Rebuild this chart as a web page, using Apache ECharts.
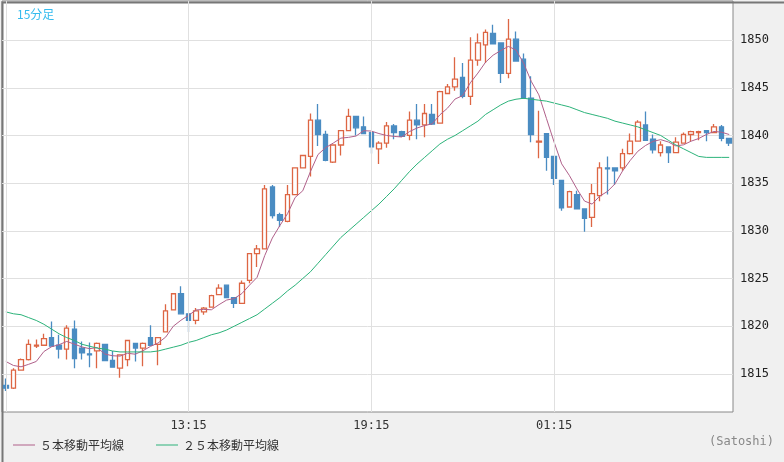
<!DOCTYPE html>
<html><head><meta charset="utf-8">
<script src="https://cdn.jsdelivr.net/npm/echarts@6/dist/echarts.min.js"></script>
<style>html,body{margin:0;padding:0;background:#f0f0f0}#c{width:784px;height:462px}</style>
</head><body><div id="c"></div>
<script>
// [open, close, low, high]
const ohlc = [
[1813.8,1813.5,1813.2,1814.5],[1813.5,1815.4,1813.4,1815.6],[1815.4,1816.5,1815.4,1816.6],[1816.5,1818.1,1816.4,1818.6],
[1817.9,1818.0,1817.7,1818.6],[1818.0,1818.7,1818.0,1819.2],[1818.8,1817.9,1817.9,1820.5],[1818.0,1817.6,1816.6,1819.1],
[1817.6,1819.8,1816.5,1820.1],[1819.7,1816.6,1815.6,1820.6],[1817.7,1817.2,1816.5,1818.4],[1817.1,1817.0,1815.7,1818.3],
[1817.4,1818.2,1815.6,1818.3],[1818.1,1816.4,1816.4,1818.1],[1816.4,1815.7,1815.7,1817.4],[1815.6,1817.0,1814.6,1817.0],
[1816.5,1818.5,1815.8,1818.5],[1818.2,1817.7,1816.3,1818.2],[1817.7,1818.2,1815.8,1818.3],[1818.8,1818.0,1818.0,1820.1],
[1818.1,1818.8,1815.9,1818.8],[1819.4,1821.6,1819.4,1822.3],[1821.7,1823.4,1821.7,1823.4],[1823.4,1821.3,1821.3,1824.2],
[1821.3,1820.6,1819.4,1821.3],[1820.6,1821.6,1820.2,1821.9],[1821.5,1821.9,1821.2,1822.0],[1822.0,1823.2,1822.0,1823.3],
[1823.3,1824.0,1823.3,1824.4],[1824.3,1823.0,1823.0,1824.3],[1823.0,1822.4,1821.9,1823.0],[1822.4,1824.5,1822.4,1824.8],
[1824.8,1827.6,1824.5,1827.6],[1827.6,1828.1,1826.2,1828.5],[1828.1,1834.4,1828.1,1834.8],[1834.6,1831.6,1831.3,1834.8],
[1831.7,1831.1,1830.4,1831.9],[1831.0,1833.8,1830.9,1834.8],[1833.8,1836.6,1833.8,1836.6],[1836.6,1837.9,1836.6,1837.9],
[1837.8,1841.6,1835.7,1842.3],[1841.6,1840.1,1838.9,1843.3],[1840.1,1837.4,1837.3,1840.5],[1837.2,1839.0,1837.1,1839.0],
[1839.0,1840.5,1837.9,1840.5],[1840.5,1842.0,1840.5,1842.8],[1842.0,1840.8,1840.0,1842.0],[1840.9,1840.2,1840.2,1842.0],
[1840.3,1838.8,1838.1,1840.3],[1838.6,1839.2,1837.0,1839.4],[1839.2,1841.0,1838.7,1841.4],[1841.0,1840.3,1839.6,1841.2],
[1840.4,1839.9,1839.9,1840.5],[1840.0,1841.6,1839.5,1842.5],[1841.6,1841.1,1839.6,1843.3],[1841.1,1842.3,1839.8,1843.3],
[1842.2,1841.2,1841.1,1843.3],[1841.3,1844.6,1841.3,1844.7],[1844.4,1845.1,1844.4,1845.4],[1845.1,1845.9,1844.7,1848.2],
[1846.1,1844.1,1843.9,1847.6],[1844.1,1847.9,1843.2,1850.3],[1847.9,1849.7,1847.3,1850.7],[1849.5,1850.8,1847.6,1851.1],
[1850.7,1849.6,1849.6,1851.6],[1849.7,1846.5,1845.5,1849.7],[1846.5,1850.1,1846.0,1852.2],[1850.1,1847.8,1847.8,1850.9],
[1848.0,1843.9,1843.9,1848.6],[1843.9,1840.1,1839.3,1846.2],[1839.3,1839.4,1837.6,1842.6],[1840.2,1837.7,1836.3,1840.2],
[1837.8,1835.5,1834.8,1837.8],[1835.3,1832.4,1832.1,1835.3],[1832.5,1834.1,1832.5,1834.2],[1833.8,1832.3,1832.3,1834.2],
[1832.3,1831.3,1829.9,1832.3],[1831.4,1833.9,1830.4,1834.9],[1833.7,1836.6,1833.1,1837.2],[1836.6,1836.5,1833.8,1837.8],
[1836.6,1836.3,1834.8,1836.6],[1836.6,1838.1,1836.3,1838.6],[1838.1,1839.4,1838.0,1840.2],[1839.4,1841.4,1839.4,1841.6],
[1841.1,1839.5,1839.5,1842.5],[1839.6,1838.5,1838.1,1840.1],[1838.2,1839.0,1837.8,1839.4],[1838.8,1838.2,1837.1,1838.8],
[1838.2,1839.3,1838.2,1839.8],[1839.2,1840.1,1839.2,1840.3],[1840.1,1840.4,1839.4,1840.5],[1840.3,1840.4,1839.5,1840.5],
[1840.5,1840.3,1839.4,1840.5],[1840.3,1840.9,1840.3,1841.2],[1840.9,1839.7,1839.4,1841.1],[1839.7,1839.2,1838.9,1839.7]
];
const prevCloses = [1817.5,1817.2,1816.8,1816.5];
const ma25 = [1821.5,1821.3,1821.2,1820.9,1820.6,1820.2,1819.7,1819.2,1818.8,1818.5,1818.1,1817.9,1817.7,1817.6,1817.4,1817.3,
1817.3,1817.3,1817.3,1817.3,1817.4,1817.6,1817.8,1818.0,1818.3,1818.5,1818.8,1819.1,1819.3,1819.6,1820.0,1820.4,
1820.8,1821.2,1821.8,1822.4,1823.0,1823.7,1824.3,1825.0,1825.7,1826.6,1827.5,1828.4,1829.3,1830.0,1830.7,1831.4,
1832.1,1832.8,1833.6,1834.4,1835.3,1836.2,1837.0,1837.7,1838.4,1839.1,1839.6,1840.0,1840.5,1841.0,1841.5,1842.2,
1842.7,1843.2,1843.6,1843.8,1843.9,1843.8,1843.7,1843.6,1843.4,1843.2,1843.0,1842.7,1842.4,1842.2,1842.0,1841.8,
1841.5,1841.3,1841.1,1840.9,1840.6,1840.3,1840.0,1839.5,1839.0,1838.6,1838.2,1837.8,1837.7,1837.7,1837.7,1837.7];
const yTicks = [1815,1820,1825,1830,1835,1840,1845,1850];
const timeLabels = ['13:15','19:15','01:15'];

const cats = ohlc.map((d,i)=>{const m=(7*60+15+i*15)%(24*60);return String(Math.floor(m/60)).padStart(2,'0')+':'+String(m%60).padStart(2,'0');});
const closes = prevCloses.concat(ohlc.map(d=>d[1]));
const ma5 = ohlc.map((d,i)=>{let s=0;for(let k=0;k<5;k++)s+=closes[i+4-k];return +(s/5).toFixed(2);});
const font='"DejaVu Sans Mono", monospace';
const chart = echarts.init(document.getElementById('c'));
chart.setOption({
  animation:false, backgroundColor:'#f0f0f0',
  title:{text:'15分足',left:12,top:3,textStyle:{color:'#33bbee',fontSize:12,fontWeight:'normal',fontFamily:'"Noto Sans CJK JP"'}},
  graphic:[{type:'text',right:10,bottom:14,style:{text:'(Satoshi)',fill:'#888',font:'12px '+font}},
           {type:'rect',left:0,top:0,shape:{width:783,height:461},style:{fill:'none',stroke:'#777',lineWidth:2},silent:true}],
  legend:{left:8,bottom:6,itemGap:32,itemWidth:22,itemHeight:1,icon:'rect',textStyle:{fontFamily:'"Noto Sans CJK JP"',fontSize:12,color:'#333'},
    data:['５本移動平均線','２５本移動平均線']},
  grid:{left:2,right:51,top:1,bottom:50,show:true,backgroundColor:'#fff',borderColor:'#888',borderWidth:1},
  xAxis:{type:'category',data:cats,boundaryGap:true,axisLine:{show:false},axisTick:{show:false},splitLine:{show:false},
    axisLabel:{interval:0,formatter:v=>timeLabels.includes(v)?v:'',color:'#333',fontFamily:font,fontSize:12,margin:8}},
  yAxis:{type:'value',position:'right',min:1811,max:1854.1,scale:true,
    axisLine:{show:false},axisTick:{show:false,customValues:yTicks},
    axisLabel:{customValues:yTicks,formatter:v=>String(v),color:'#222',fontFamily:font,fontSize:12,margin:7},
    splitLine:{show:true,lineStyle:{color:'#e0e0e0'}}},
  series:[
    {type:'candlestick',name:'candle',data:ohlc,barWidth:5,
     itemStyle:{color:'#fff',color0:'#4a8cc2',borderColor:'#dd6644',borderColor0:'#4a8cc2',borderWidth:1.3},
     markLine:{silent:true,symbol:'none',label:{show:false},lineStyle:{color:'#e0e0e0',type:'solid',width:1},
       data:['07:15'].concat(timeLabels).map(t=>({xAxis:t}))},z:3},
    {type:'line',name:'５本移動平均線',data:ma5,symbol:'none',smooth:false,lineStyle:{color:'#b0608a',width:1},itemStyle:{color:'#b0608a'},z:4},
    {type:'line',name:'２５本移動平均線',data:ma25,symbol:'none',lineStyle:{color:'#2cb37a',width:1},itemStyle:{color:'#2cb37a'},z:4}
  ]
});
</script></body></html>
